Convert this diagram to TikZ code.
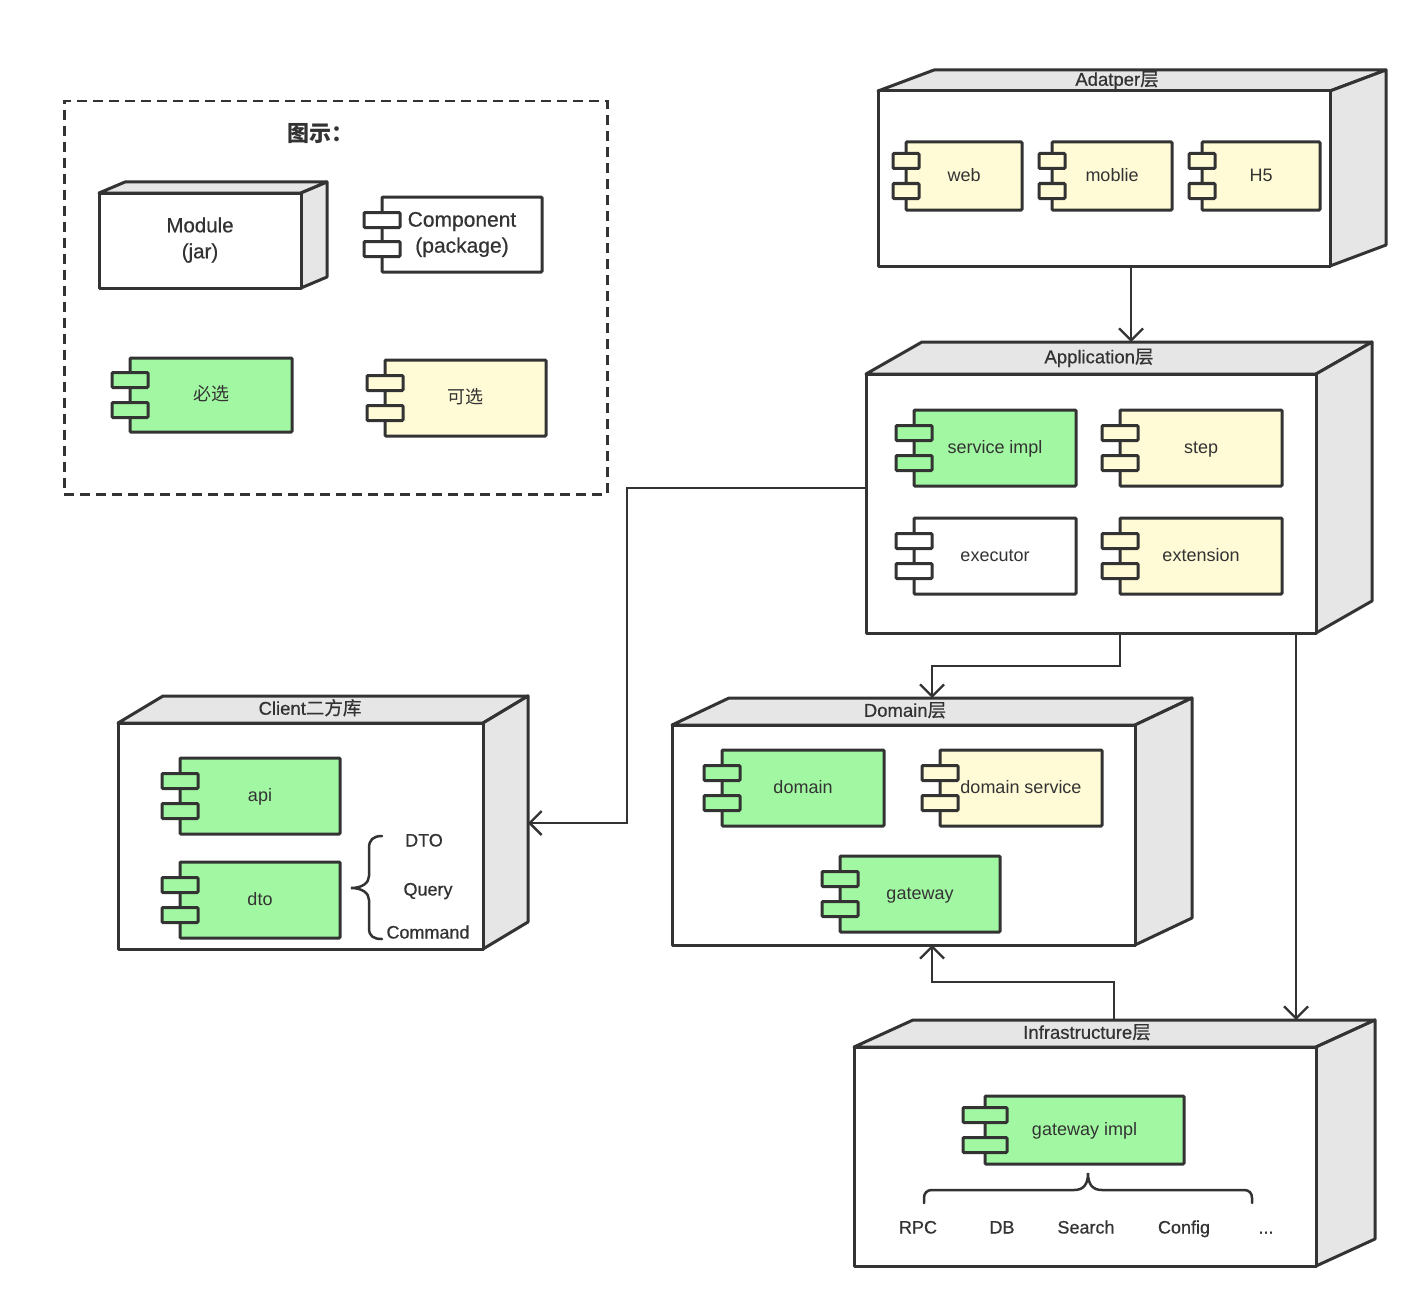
\documentclass[tikz,border=0pt]{standalone}
\usepackage{fontspec}
\setmainfont{Liberation Sans}
\newfontfamily\cjk{Noto Sans CJK SC}
\newfontfamily\medf[FakeBold=0.6]{Liberation Sans}
\newfontfamily\cjkmed[FakeBold=0.6]{Noto Sans CJK SC}
\usetikzlibrary{arrows.meta,calc}
\definecolor{lc}{HTML}{333333}
\definecolor{gfill}{HTML}{A2F8A2}
\definecolor{yfill}{HTML}{FFFBD6}
\definecolor{sidec}{HTML}{E6E6E6}
\tikzset{
  face/.style={draw=lc, fill=sidec, line width=3pt, line join=round},
  front/.style={draw=lc, fill=white, line width=3pt, inner sep=0pt, outer sep=0pt, line join=round},
  ttl/.style={text=lc, font=\fontsize{18.5}{21}\selectfont\medf, inner sep=0pt, text height=13.5, text depth=3},
  comp/.style={draw=lc, line width=3pt, inner sep=0pt, outer sep=0pt, text=lc, align=center, font=\fontsize{18}{21}\selectfont, rounded corners=1pt},
  ctext/.style={text height=13.5, text depth=2},
  port/.style={draw=lc, line width=3pt, rounded corners=1pt},
  lbl/.style={text=lc, font=\fontsize{18}{21}\selectfont\medf, inner sep=0pt, anchor=base},
  conn/.style={draw=lc, line width=2.3pt, -{Straight Barb[length=12pt,width=24pt]}},
  bracel/.style={draw=lc, line width=2.5pt, line cap=round},
  legendbox/.style={draw=lc, line width=2.5pt, dash pattern=on 10pt off 6pt, inner sep=0pt},
}
% name, x1, y1, x2, y2, dx, dy, title, titlex
\newcommand{\layerbox}[9]{%
  \filldraw[face] (#2,#3) -- ({#2+#6},{#3-#7}) -- ({#4+#6},{#3-#7}) -- (#4,#3) -- cycle;
  \filldraw[face] (#4,#3) -- ({#4+#6},{#3-#7}) -- ({#4+#6},{#5-#7}) -- (#4,#5) -- cycle;
  \node[front, anchor=north west, minimum width={#4-#2}, minimum height={#5-#3}] (#1) at (#2,#3) {};
  \node[ttl] (#1-t) at (#9,{#3-#7/2}) {#8};
}
% name, x1, y1, x2, y2, fill, text, port half width
\newcommand{\compbox}[8]{%
  \node[comp, ctext, fill=#6, minimum width={#4-#2}, minimum height={#5-#3}] (#1) at ({(#2+#4)/2},{(#3+#5)/2}) {#7};
  \filldraw[port, fill=#6] ($(#1.west)+(-#8,-22.5)$) rectangle ($(#1.west)+(#8,-7.5)$);
  \filldraw[port, fill=#6] ($(#1.west)+(-#8,7.5)$) rectangle ($(#1.west)+(#8,22.5)$);
}
\begin{document}
\begin{tikzpicture}[x=1pt,y=-1pt]
\useasboundingbox[fill=white] (0,0) rectangle (1420,1308);

% ---------- legend ----------
\node[legendbox, anchor=north west, minimum width=543, minimum height=393] (legend) at (63,100) {};
\node[text=lc, font=\fontsize{22}{25}\selectfont\cjk\bfseries, inner sep=0pt] (legendtitle) at (320,134) {图示：};
\layerbox{mod}{99}{193}{301}{288}{26}{11}{}{200}
\node[text=lc, align=center, font=\fontsize{20.5}{26}\selectfont\medf, inner sep=0pt] (modtext) at (200,240) {Module\\(jar)};
\node[comp, fill=white, minimum width=160, minimum height=75, font=\fontsize{21}{26}\selectfont\medf] (legcomp) at (462,234.5) {Component\\(package)};
\filldraw[port, fill=white] ($(legcomp.west)+(-18,-22)$) rectangle ($(legcomp.west)+(18,-7)$);
\filldraw[port, fill=white] ($(legcomp.west)+(-18,7)$) rectangle ($(legcomp.west)+(18,22)$);
\compbox{must}{130}{358}{292}{432}{gfill}{\cjk 必选}{18}
\compbox{opt}{385}{360}{546}{436}{yfill}{\cjk 可选}{18}

% ---------- Adapter ----------
\layerbox{adapter}{878}{91}{1330}{266}{56}{21}{Adatper{\cjkmed 层}}{1117}
\compbox{web}{906}{142}{1022}{210}{yfill}{web}{13}
\compbox{mobile}{1052}{142}{1172}{210}{yfill}{moblie}{13}
\compbox{h5}{1202}{142}{1320}{210}{yfill}{H5}{13}

% ---------- Application ----------
\layerbox{app}{866}{374}{1316}{633}{56}{32}{Application{\cjkmed 层}}{1099}
\compbox{svc}{914}{410}{1076}{486}{gfill}{service impl}{18}
\compbox{stepc}{1120}{410}{1282}{486}{yfill}{step}{18}
\compbox{exec}{914}{518}{1076}{594}{white}{executor}{18}
\compbox{ext}{1120}{518}{1282}{594}{yfill}{extension}{18}

% ---------- Client ----------
\layerbox{client}{118}{723}{483}{949}{45}{27}{Client{\cjkmed 二方库}}{310}
\compbox{api}{180}{758}{340}{834}{gfill}{api}{18}
\compbox{dto}{180}{862}{340}{938}{gfill}{dto}{18}
\draw[bracel] (382,836) .. controls (373,836) and (369,840) .. (369,848) -- (369,876)
  .. controls (369,883) and (362,888) .. (351,888)
  .. controls (362,888) and (369,893) .. (369,900) -- (369,928)
  .. controls (369,936) and (373,939) .. (382,939);
\node[lbl] (dtoT) at (424,846.5) {DTO};
\node[lbl] (queryT) at (428,895.5) {Query};
\node[lbl] (cmdT) at (428,938.5) {Command};

% ---------- Domain ----------
\layerbox{domain}{672}{725}{1135}{945}{57}{27}{Domain{\cjkmed 层}}{905}
\compbox{dom}{722}{750}{884}{826}{gfill}{domain}{18}
\compbox{domsvc}{940}{750}{1102}{826}{yfill}{domain service}{18}
\compbox{gw}{840}{856}{1000}{932}{gfill}{gateway}{18}

% ---------- Infrastructure ----------
\layerbox{infra}{854}{1047}{1316}{1266}{59}{27}{Infrastructure{\cjkmed 层}}{1087}
\compbox{gwimpl}{985}{1096}{1184}{1164}{gfill}{gateway impl}{22}
\draw[bracel] (924,1203) -- (924,1198) .. controls (924,1193) and (927,1190) .. (932,1190) -- (1074,1190)
  .. controls (1083,1190) and (1088,1185) .. (1088,1173)
  .. controls (1088,1185) and (1093,1190) .. (1102,1190) -- (1244,1190)
  .. controls (1249,1190) and (1252,1193) .. (1252,1198) -- (1252,1203);
\node[lbl] (rpc) at (918,1233.5) {RPC};
\node[lbl] (db) at (1002,1233.5) {DB};
\node[lbl] (search) at (1086,1233.5) {Search};
\node[lbl] (config) at (1184,1233.5) {Config};
\node[lbl] (more) at (1266,1233.5) {...};

% ---------- connectors ----------
\coordinate (appTop) at (1131,342);
\coordinate (clientSide) at (528,823);
\coordinate (domTop) at (932,698);
\coordinate (infraTopR) at (1296,1020);
\coordinate (infraTopL) at (1114,1020);
\coordinate (domBot) at (932,945);

\draw[conn] ($(adapter.south)+(27,0)$) -- (appTop);
\draw[conn] ($(app.west)+(0,-15.5)$) -- (627,488) |- (clientSide);
\draw[conn] ($(app.south)+(29,0)$) -- (1120,666) -| (domTop);
\draw[conn] ($(app.south)+(205,0)$) -- (infraTopR);
\draw[conn] (infraTopL) -- (1114,982) -| (domBot);
\end{tikzpicture}
\end{document}
